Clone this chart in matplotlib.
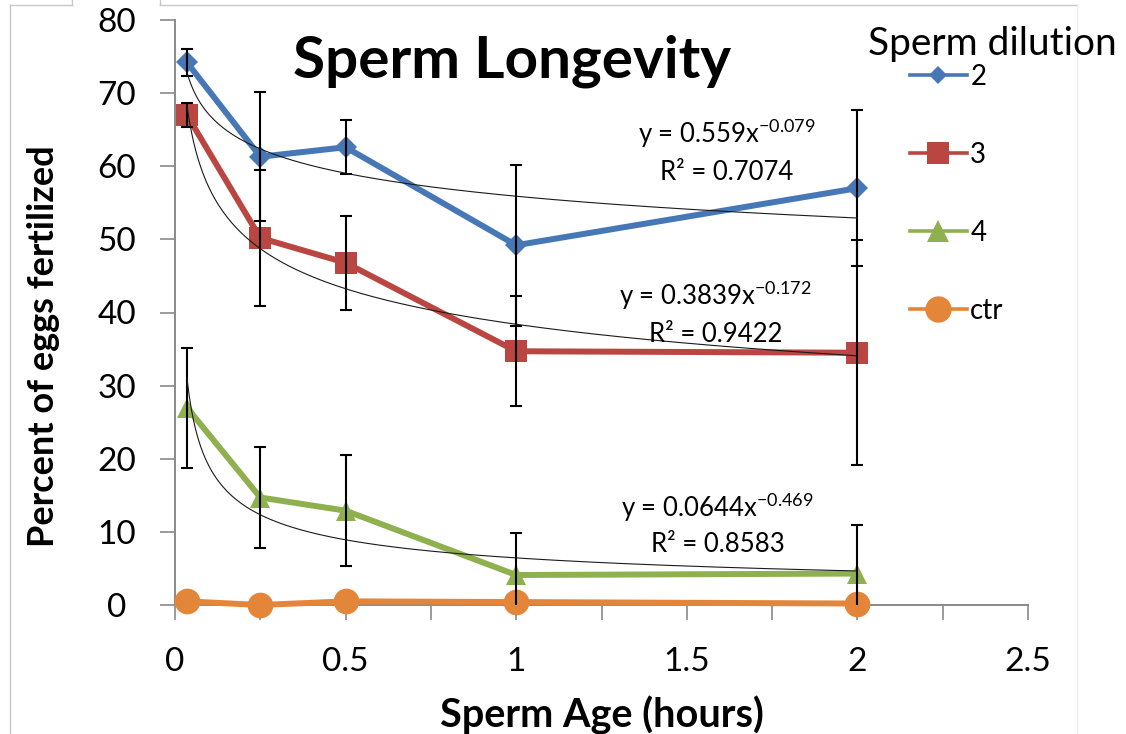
import numpy as np
import matplotlib
matplotlib.use('Agg')
import matplotlib.pyplot as plt
from matplotlib.lines import Line2D
from matplotlib.ticker import MultipleLocator

plt.rcParams['font.family'] = ['Lato', 'DejaVu Sans']
plt.rcParams['mathtext.fontset'] = 'custom'
plt.rcParams['mathtext.rm'] = 'Lato'

# sperm age (hours) at each sampling time
age = [0.035, 0.25, 0.5, 1.0, 2.0]

# percent of eggs fertilized, mean and error bar half-width per dilution
dilution = ['2', '3', '4', 'ctr']
pct_2 = [74.2, 61.3, 62.6, 49.2, 57.0]
err_2 = [1.9, 8.8, 3.7, 11.0, 10.7]
pct_3 = [67.0, 50.2, 46.8, 34.7, 34.5]
err_3 = [1.7, 9.3, 6.4, 7.5, 15.4]
pct_4 = [27.0, 14.7, 12.9, 4.1, 4.3]
err_4 = [8.2, 6.9, 7.6, 5.7, 6.7]
pct_ctr = [0.5, 0.0, 0.5, 0.4, 0.2]

# power trendlines y = a * x^b (fitted on fractions, drawn in percent)
fit_a = [0.559, 0.3839, 0.0644]
fit_b = [-0.079, -0.172, -0.469]
fit_r2 = ['0.7074', '0.9422', '0.8583']

x_ticks = [0, 0.5, 1, 1.5, 2, 2.5]
x_ticklabels = ['0', '0.5', '1', '1.5', '2', '2.5']

W, H = 1126, 734
fig = plt.figure(figsize=(W / 100, H / 100), dpi=100)
ax = fig.add_axes([175 / W, 1 - 605 / H, (1028 - 175) / W, (605 - 20) / H])

colors = ['#4677B6', '#BA4642', '#8FB04F', '#E4863A']
markers = ['D', 's', '^', 'o']
msizes = [11.7, 16.5, 15, 18.5]
series = [pct_2, pct_3, pct_4, pct_ctr]
errors = [err_2, err_3, err_4, None]

for pct, c, m, ms in zip(series, colors, markers, msizes):
    ax.plot(age, pct, color=c, lw=4.3, marker=m, ms=ms, mew=0,
            zorder=3, clip_on=False)

for pct, err in zip(series, errors):
    if err is None:
        continue
    ax.errorbar(age, pct, yerr=err, fmt='none', ecolor='black',
                elinewidth=1.5, capsize=4.3, capthick=1.5, zorder=4)

xs = np.linspace(age[0], age[-1], 300)
for a, b in zip(fit_a, fit_b):
    ax.plot(xs, 100 * a * xs ** b, color='#1a1a1a', lw=0.8, zorder=5)

# equation labels (x, baseline of first line, baseline of second line)
eq_pos = [(1.617, 63.2, 58.1), (1.585, 41.0, 36.0), (1.59, 12.0, 7.2)]
for (ex, ey1, ey2), a, b, r2 in zip(eq_pos, fit_a, fit_b, fit_r2):
    ax.text(ex, ey1, f'y = {a}x$\\mathregular{{^{{{b}}}}}$', ha='center',
            va='baseline', fontsize=18.5, zorder=6)
    ax.text(ex, ey2, f'R² = {r2}', ha='center', va='baseline',
            fontsize=18.5, zorder=6)

ax.set_xticks(x_ticks, x_ticklabels)
ax.xaxis.set_minor_locator(MultipleLocator(0.25))
ax.yaxis.set_major_locator(MultipleLocator(10))
ax.set_xlim(0, 2.5)
ax.set_ylim(0, 80)

for side in ['top', 'right']:
    ax.spines[side].set_visible(False)
for side in ['left', 'bottom']:
    ax.spines[side].set_color('#8a8a8a')
    ax.spines[side].set_linewidth(1.4)

ax.tick_params(which='both', direction='out', length=10.5, width=1.2,
               color='#8a8a8a', labelsize=24, labelcolor='black')
ax.tick_params(axis='x', pad=20)
ax.tick_params(axis='y', pad=31.5)
for lbl in ax.get_yticklabels():
    lbl.set_ha('center')

ax.set_xlabel('Sperm Age (hours)', fontsize=28.5, fontweight='bold')
ax.xaxis.set_label_coords(0.5, -0.155)
ax.set_ylabel('Percent of eggs fertilized', fontsize=26, fontweight='bold')
ax.yaxis.set_label_coords(-0.135, 0.443)

fig.text(511.5 / W, 1 - 78 / H, 'Sperm Longevity', ha='center',
         va='baseline', fontsize=42, fontweight='bold')

# legend
handles = [Line2D([], [], color=c, lw=2.6, marker=m, ms=s, mew=0)
           for c, m, s in zip(colors, markers, [8.7, 15.5, 15.5, 19])]
fig.text(868 / W, 1 - 55 / H, 'Sperm dilution', ha='left', va='baseline',
         fontsize=28)
fig.legend(handles, dilution, loc='upper left',
           bbox_to_anchor=(910 / W, 1 - 64 / H), frameon=False, fontsize=20,
           handlelength=2.05, handletextpad=0.12, labelspacing=1.87,
           borderpad=0, borderaxespad=0)

# light frame lines around the chart area
def frame_line(px, py, color):
    fig.add_artist(Line2D([p / W for p in px], [1 - q / H for q in py],
                          color=color, lw=1, transform=fig.transFigure))

frame_line([10, 72], [5, 5], '#c8c8c8')
frame_line([72, 72], [0, 5], '#c8c8c8')
frame_line([160, 160], [0, 5], '#c8c8c8')
frame_line([160, 1077], [5, 5], '#c8c8c8')
frame_line([10, 10], [5, 734], '#c4c4c4')
frame_line([1077, 1077], [5, 734], '#ececec')

fig.savefig('out.png', dpi=100)
